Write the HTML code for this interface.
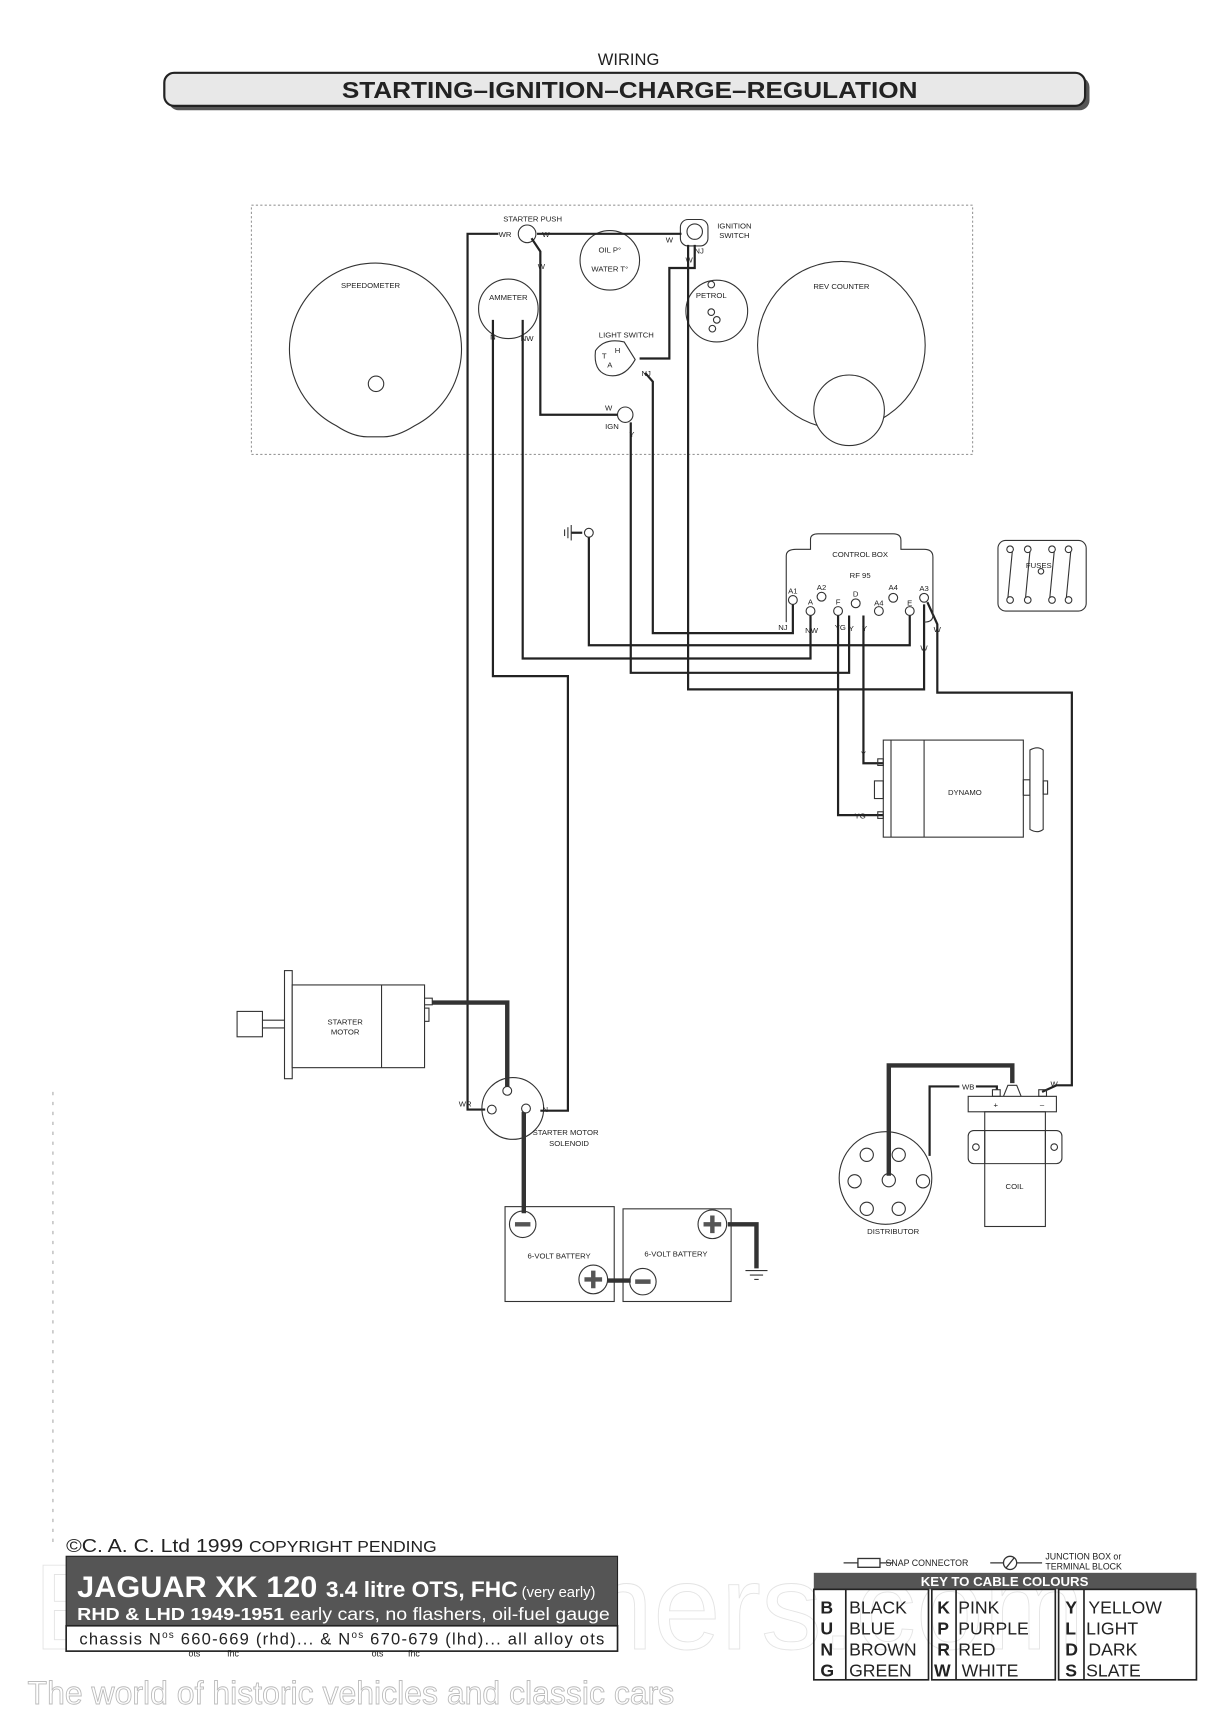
<!DOCTYPE html>
<html><head><meta charset="utf-8"><style>
html,body{margin:0;padding:0;background:#fff;}
svg{display:block;}
text{font-family:"Liberation Sans",sans-serif;fill:#222;}
</style></head><body>
<svg width="1213" height="1714" viewBox="0 0 1100 1554" preserveAspectRatio="none" xmlns="http://www.w3.org/2000/svg">
<rect width="1100" height="1554" fill="#fff"/>
<!-- title -->
<text x="570" y="59" font-size="15" text-anchor="middle">WIRING</text>
<rect x="153" y="70" width="835" height="30" rx="9" fill="#555"/>
<rect x="149" y="66" width="835" height="30" rx="9" fill="#e8e8e8" stroke="#222" stroke-width="2"/>
<text x="310" y="89" font-size="21" font-weight="bold" textLength="522" lengthAdjust="spacingAndGlyphs">STARTING–IGNITION–CHARGE–REGULATION</text>

<!-- dashboard -->
<rect x="228" y="186" width="654" height="226" fill="none" stroke="#999" stroke-width="1" stroke-dasharray="2,2"/>
<g fill="none" stroke="#333" stroke-width="1">
<path d="M305,386 A78,78 0 1 1 376,386 Q360,396 348,396 L333,396 Q320,396 305,386 Z"/>
<circle cx="341" cy="348" r="7"/>
<circle cx="763" cy="313" r="76"/>
<circle cx="770" cy="372" r="32" fill="#fff"/>
<circle cx="461" cy="280" r="27"/>
<circle cx="553" cy="236" r="27"/>
<circle cx="650" cy="282" r="28"/>
<circle cx="645" cy="258" r="3"/><circle cx="645" cy="283" r="3"/><circle cx="650" cy="290" r="3"/><circle cx="646" cy="298" r="3"/>
<circle cx="478" cy="212" r="8"/>
<rect x="617" y="199" width="25" height="24" rx="7"/>
<circle cx="630" cy="210" r="7"/>
<path d="M540,318 Q548,306 566,310 L576,326 Q566,344 550,340 Q538,336 540,318 Z"/>
<circle cx="567" cy="376" r="7"/>
</g>
<g font-size="7" text-anchor="middle">
<text x="336" y="261">SPEEDOMETER</text>
<text x="763" y="262">REV COUNTER</text>
<text x="461" y="272">AMMETER</text>
<text x="553" y="229">OIL P°</text>
<text x="553" y="246">WATER T°</text>
<text x="645" y="270">PETROL</text>
<text x="483" y="201">STARTER PUSH</text>
<text x="666" y="207">IGNITION</text>
<text x="666" y="216">SWITCH</text>
<text x="568" y="306">LIGHT SWITCH</text>
<text x="458" y="215">WR</text><text x="495" y="215">W</text><text x="491" y="244">W</text>
<text x="607" y="220">W</text><text x="634" y="230">NJ</text><text x="625" y="238">W</text>
<text x="447" y="308">N</text><text x="478" y="309">NW</text>
<text x="586" y="341">NJ</text><text x="552" y="372">W</text><text x="555" y="389">IGN</text><text x="573" y="396">Y</text>
<text x="548" y="325">T</text><text x="560" y="320">H</text><text x="553" y="333">A</text>
</g>

<!-- wires -->
<g fill="none" stroke="#222" stroke-width="2">
<path d="M452,212 H424 V1006 H440"/>
<path d="M487,212 H618"/>
<path d="M482,216 L490,228 V376 H560"/>
<path d="M447,290 V613 H515 V1007 H490"/>
<path d="M474,290 V597 H735 V558"/>
<path d="M534,483 V585 H825 V556"/>
<path d="M572,383 V610 H770 V558"/>
<path d="M580,325 H607 V243 H630 V222"/>
<path d="M585,338 L592,346 V574 H719 V548"/>
<path d="M624,222 V625 H838 V548"/>
<path d="M841,546 L850,566 V628 H972 V984 H958 L945,990"/>
<path d="M783,558 V692 H801"/>
<path d="M760,556 V739 H801"/>
<path d="M518,483 H528"/>
<path d="M904,988 V985 H885 M870,985 H843 V1048"/>
</g>
<g fill="none" stroke="#333" stroke-width="4">
<path d="M392,909 H460 V988"/>
<path d="M475,1008 V1100"/>
<path d="M918,982 V966 H806 V1066"/>
<path d="M660,1110 H686 V1150"/>
<path d="M551,1161 H572"/>
</g>
<g stroke="#333" stroke-width="1"><line x1="518" y1="476" x2="518" y2="490"/><line x1="515" y1="478" x2="515" y2="488"/><line x1="512" y1="480" x2="512" y2="486"/></g>
<circle cx="534" cy="483" r="4" fill="#fff" stroke="#333"/>

<!-- control box -->
<path d="M713,564 V504 Q713,498 722,498 H735 V489 Q735,484 742,484 H810 Q817,484 817,490 V498 H838 Q846,498 846,505 V558 Q846,564 838,564" fill="none" stroke="#333" stroke-width="1"/>
<g font-size="7" text-anchor="middle">
<text x="780" y="505">CONTROL BOX</text><text x="780" y="524">RF 95</text>
<text x="719" y="538">A1</text><text x="745" y="535">A2</text><text x="735" y="548">A</text><text x="760" y="548">F</text><text x="776" y="541">D</text><text x="797" y="549">A4</text><text x="810" y="535">A4</text><text x="825" y="549">E</text><text x="838" y="536">A3</text>
<text x="710" y="571">NJ</text><text x="736" y="574">NW</text><text x="762" y="571">YG</text><text x="772" y="572">Y</text><text x="784" y="572">Y</text>
<text x="838" y="590">W</text><text x="850" y="573">W</text>
</g>
<g fill="#fff" stroke="#333" stroke-width="1">
<circle cx="719" cy="544" r="4"/><circle cx="745" cy="541" r="4"/><circle cx="735" cy="554" r="4"/><circle cx="760" cy="554" r="4"/><circle cx="776" cy="547" r="4"/><circle cx="797" cy="554" r="4"/><circle cx="810" cy="542" r="4"/><circle cx="825" cy="554" r="4"/><circle cx="838" cy="542" r="4"/>
</g>
<!-- fuses -->
<rect x="905" y="490" width="80" height="64" rx="7" fill="none" stroke="#333"/>
<g fill="none" stroke="#333" stroke-width="1">
<circle cx="916" cy="498" r="3"/><circle cx="932" cy="498" r="3"/><circle cx="954" cy="498" r="3"/><circle cx="969" cy="498" r="3"/>
<circle cx="916" cy="544" r="3"/><circle cx="932" cy="544" r="3"/><circle cx="954" cy="544" r="3"/><circle cx="969" cy="544" r="3"/>
<path d="M918,500 L914,542 M934,500 L930,542 M956,500 L952,542 M971,500 L967,542"/>
<circle cx="944" cy="518" r="2.5"/>
</g>
<text x="942" y="515" font-size="7" text-anchor="middle">FUSES</text>

<!-- dynamo -->
<g fill="none" stroke="#333" stroke-width="1">
<rect x="801" y="671" width="127" height="88"/>
<line x1="808" y1="671" x2="808" y2="759"/><line x1="838" y1="671" x2="838" y2="759"/>
<rect x="793" y="708" width="8" height="16"/>
<rect x="928" y="707" width="6" height="14"/>
<path d="M934,680 Q941,676 946,680 V752 Q941,756 934,752 Z"/>
<rect x="946" y="708" width="4" height="12"/>
<rect x="796" y="688" width="5" height="6"/><rect x="796" y="736" width="5" height="6"/>
</g>
<text x="875" y="721" font-size="7" text-anchor="middle">DYNAMO</text>
<text x="783" y="686" font-size="7" text-anchor="middle">Y</text>
<text x="780" y="742" font-size="7" text-anchor="middle">YG</text>

<!-- starter motor -->
<g fill="#fff" stroke="#333" stroke-width="1">
<rect x="258" y="880" width="7" height="98"/>
<rect x="265" y="893" width="120" height="75"/>
<line x1="346" y1="893" x2="346" y2="968"/>
<rect x="215" y="917" width="23" height="23"/>
<line x1="238" y1="925" x2="258" y2="925"/><line x1="238" y1="932" x2="258" y2="932"/>
<rect x="385" y="905" width="7" height="6"/><rect x="385" y="914" width="4" height="12"/>
</g>
<text x="313" y="929" font-size="7" text-anchor="middle">STARTER</text>
<text x="313" y="938" font-size="7" text-anchor="middle">MOTOR</text>
<!-- solenoid -->
<circle cx="465" cy="1005" r="28" fill="none" stroke="#333"/>
<circle cx="460" cy="989" r="4" fill="#fff" stroke="#333"/>
<circle cx="446" cy="1006" r="4" fill="#fff" stroke="#333"/>
<circle cx="477" cy="1005" r="4" fill="#fff" stroke="#333"/>
<g font-size="7"><text x="416" y="1003">WR</text><text x="492" y="1008">N</text>
<text x="483" y="1029">STARTER MOTOR</text><text x="498" y="1039">SOLENOID</text></g>
<!-- batteries -->
<g fill="none" stroke="#333" stroke-width="1">
<rect x="458" y="1094" width="99" height="86"/>
<rect x="565" y="1096" width="98" height="84"/>
<circle cx="474" cy="1110" r="12"/><circle cx="538" cy="1160" r="13"/>
<circle cx="583" cy="1162" r="12"/><circle cx="646" cy="1110" r="13"/>
<path d="M676,1152 H696 M680,1156 H692 M684,1160 H688"/>
</g>
<g stroke="#555" stroke-width="4"><path d="M467,1110 H481 M576,1162 H590 M530,1160 H546 M538,1152 V1168 M638,1110 H654 M646,1102 V1118"/></g>
<text x="507" y="1141" font-size="7" text-anchor="middle">6-VOLT BATTERY</text>
<text x="613" y="1139" font-size="7" text-anchor="middle">6-VOLT BATTERY</text>

<!-- distributor & coil -->
<g fill="none" stroke="#333" stroke-width="1">
<circle cx="803" cy="1068" r="42"/>
<circle cx="786" cy="1047" r="6"/><circle cx="815" cy="1047" r="6"/><circle cx="775" cy="1071" r="6"/><circle cx="806" cy="1070" r="6"/><circle cx="837" cy="1071" r="6"/><circle cx="786" cy="1096" r="6"/><circle cx="815" cy="1096" r="6"/>
<rect x="878" y="994" width="80" height="14"/>
<rect x="893" y="1008" width="55" height="104"/>
<rect x="878" y="1025" width="85" height="30" rx="5"/>
<line x1="893" y1="1025" x2="893" y2="1055"/><line x1="948" y1="1025" x2="948" y2="1055"/>
<circle cx="885" cy="1040" r="3"/><circle cx="956" cy="1040" r="3"/>
<path d="M910,994 L914,984 H922 L926,994"/>
<rect x="900" y="988" width="7" height="6"/><rect x="942" y="988" width="7" height="6"/>
</g>
<g font-size="7" text-anchor="middle">
<text x="810" y="1119">DISTRIBUTOR</text><text x="920" y="1078">COIL</text>
<text x="878" y="988">WB</text><text x="956" y="985">W</text><text x="903" y="1004">+</text><text x="945" y="1004">–</text>
</g>

<!-- left margin -->
<line x1="48" y1="990" x2="48" y2="1400" stroke="#aaa" stroke-dasharray="3,6"/>

<!-- watermark -->
<text x="30" y="1495" font-family="Liberation Serif,serif" font-size="110" style="fill:none;stroke:#e4e4e4;stroke-width:0.8">Euro-oldtimers.com</text>

<!-- bottom left title block -->
<text x="60" y="1407" font-size="17" textLength="336" lengthAdjust="spacingAndGlyphs">©C. A. C. Ltd 1999  <tspan font-size="14">COPYRIGHT PENDING</tspan></text>
<rect x="60" y="1411" width="500" height="63" fill="#555" stroke="#222"/>
<text x="70" y="1448" font-family="Liberation Serif,serif" font-weight="bold" font-size="27" style="fill:#fff" textLength="470" lengthAdjust="spacingAndGlyphs">JAGUAR  XK 120 <tspan font-size="20">3.4 litre OTS, FHC</tspan><tspan font-size="13" font-family="Liberation Sans,sans-serif" font-weight="normal"> (very early)</tspan></text>
<text x="70" y="1469" font-size="16" style="fill:#fff" textLength="483" lengthAdjust="spacingAndGlyphs"><tspan font-weight="bold">RHD &amp; LHD 1949-1951</tspan> early cars, no flashers, oil-fuel gauge</text>
<rect x="60" y="1474" width="500" height="23" fill="#fff" stroke="#222" stroke-width="1.5"/>
<text x="72" y="1491" font-size="15" textLength="476" lengthAdjust="spacing">chassis N<tspan font-size="9" dy="-6">os</tspan><tspan dy="6"> 660-669 (rhd)... &amp; N</tspan><tspan font-size="9" dy="-6">os</tspan><tspan dy="6"> 670-679 (lhd)...     all alloy ots</tspan></text>
<g font-size="8"><text x="171" y="1502">ots</text><text x="206" y="1502">fhc</text><text x="337" y="1502">ots</text><text x="370" y="1502">fhc</text></g>

<text x="25" y="1545" font-family="Liberation Serif,serif" font-size="29" style="fill:#fff;stroke:#bbb;stroke-width:0.8">The world of historic vehicles and classic cars</text>

<!-- key -->
<g stroke="#333" stroke-width="1.2" fill="none">
<path d="M765,1417 H778 M798,1417 H810"/><rect x="778" y="1413" width="20" height="8"/>
<path d="M898,1417 H910 M922,1417 H945"/><circle cx="916" cy="1417" r="6"/><line x1="912" y1="1422" x2="920" y2="1412"/>
</g>
<text x="803" y="1420" font-size="8">SNAP CONNECTOR</text>
<text x="948" y="1414" font-size="8">JUNCTION BOX or</text>
<text x="948" y="1423" font-size="8">TERMINAL BLOCK</text>
<rect x="738" y="1426" width="347" height="15" fill="#555"/>
<text x="911" y="1438" font-size="12" font-weight="bold" text-anchor="middle" style="fill:#fff">KEY TO CABLE COLOURS</text>
<g fill="none" stroke="#222" stroke-width="1.5">
<rect x="738" y="1441" width="104" height="82"/>
<rect x="845" y="1441" width="112" height="82"/>
<rect x="960" y="1441" width="125" height="82"/>
<line x1="767" y1="1441" x2="767" y2="1523"/>
<line x1="867" y1="1441" x2="867" y2="1523"/>
<line x1="983" y1="1441" x2="983" y2="1523"/>
</g>
<g font-size="16">
<text x="744" y="1463" font-weight="bold">B</text><text x="770" y="1463">BLACK</text>
<text x="744" y="1482" font-weight="bold">U</text><text x="770" y="1482">BLUE</text>
<text x="744" y="1501" font-weight="bold">N</text><text x="770" y="1501">BROWN</text>
<text x="744" y="1520" font-weight="bold">G</text><text x="770" y="1520">GREEN</text>
<text x="850" y="1463" font-weight="bold">K</text><text x="869" y="1463">PINK</text>
<text x="850" y="1482" font-weight="bold">P</text><text x="869" y="1482">PURPLE</text>
<text x="850" y="1501" font-weight="bold">R</text><text x="869" y="1501">RED</text>
<text x="847" y="1520" font-weight="bold">W</text><text x="872" y="1520">WHITE</text>
<text x="966" y="1463" font-weight="bold">Y</text><text x="987" y="1463">YELLOW</text>
<text x="966" y="1482" font-weight="bold">L</text><text x="985" y="1482">LIGHT</text>
<text x="966" y="1501" font-weight="bold">D</text><text x="987" y="1501">DARK</text>
<text x="966" y="1520" font-weight="bold">S</text><text x="985" y="1520">SLATE</text>
</g>
</svg>
</body></html>
